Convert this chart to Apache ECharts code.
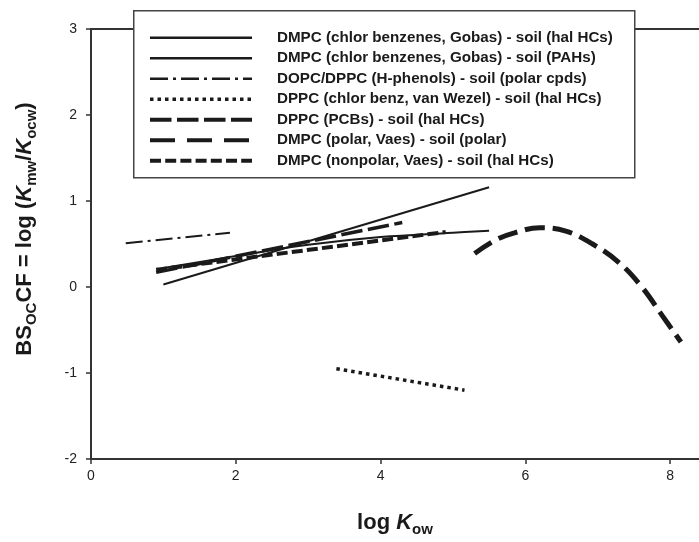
<!DOCTYPE html>
<html><head><meta charset="utf-8">
<script src="https://cdn.jsdelivr.net/npm/echarts@6/dist/echarts.min.js"></script>
<style>html,body{margin:0;padding:0;background:#fff}#c{width:699px;height:542px}</style>
</head><body><div id="c"></div>
<script>
const seriesNames = [
  'DMPC (chlor benzenes, Gobas) - soil (hal HCs)',
  'DMPC (chlor benzenes, Gobas) - soil (PAHs)',
  'DOPC/DPPC (H-phenols) - soil (polar cpds)',
  'DPPC (chlor benz, van Wezel) - soil (hal HCs)',
  'DPPC (PCBs) - soil (hal HCs)',
  'DMPC (polar, Vaes) - soil (polar)',
  'DMPC (nonpolar, Vaes) - soil (hal HCs)'
];
const gobasHal = [[1.0, 0.03], [5.5, 1.16]];
const gobasPAH = [[1.0, 0.22], [2.0, 0.36], [3.0, 0.49], [4.0, 0.58], [5.0, 0.63], [5.5, 0.655]];
const hPhenols = [[0.48, 0.51], [1.92, 0.63]];
const vanWezel = [[3.39, -0.95], [5.16, -1.2]];
const pcbs = [[0.9, 0.17], [4.3, 0.75]];
const polarVaes = [[5.3, 0.39], [5.6, 0.55], [5.85, 0.63], [6.2, 0.69], [6.56, 0.65], [6.93, 0.5], [7.3, 0.28], [7.62, -0.01], [7.89, -0.33], [8.15, -0.64]];
const nonpolarVaes = [[0.9, 0.2], [4.9, 0.64]];
const xTickLabels = [0, 2, 4, 6, 8];
const yTickLabels = [-2, -1, 0, 1, 2, 3];

const FF = '"Liberation Sans", Arial, sans-serif';
const INK = '#1a1a1a';
const seriesData = [gobasHal, gobasPAH, hPhenols, vanWezel, pcbs, polarVaes, nonpolarVaes];
const styles = [
  {width: 2, type: 'solid'},
  {width: 2, type: 'solid'},
  {width: 2, type: [17, 5, 3, 5]},
  {width: 3.5, type: [3.5, 4]},
  {width: 3.5, type: [21.5, 5.5]},
  {width: 5, type: [20, 8]},
  {width: 4, type: [11, 4.2]}
];
const legendStyles = [
  {width: 2.5, type: 'solid'},
  {width: 2.5, type: 'solid'},
  {width: 2.5, type: [18, 5, 3, 5]},
  {width: 3.5, type: [3.5, 4]},
  {width: 4, type: [21.5, 5.5]},
  {width: 4, type: [25, 12]},
  {width: 4, type: [11, 4.2]}
];
const smooth = [false, true, false, false, false, true, false];

const chart = echarts.init(document.getElementById('c'), null, {renderer: 'canvas'});
const richName = {
  b: {fontSize: 22, fontWeight: 'bold', fontFamily: FF, color: INK, lineHeight: 28},
  bi: {fontSize: 22, fontWeight: 'bold', fontStyle: 'italic', fontFamily: FF, color: INK, lineHeight: 28},
  s: {fontSize: 15, fontWeight: 'bold', fontFamily: FF, color: INK, lineHeight: 15, verticalAlign: 'bottom'}
};
chart.setOption({
  animation: false,
  backgroundColor: '#fff',
  grid: {left: 91, right: -1, top: 29, bottom: 83, containLabel: false},
  xAxis: [{
    type: 'value', min: 0, max: 8.4, interval: 2,
    name: '{b|log }{bi|K}{s|ow}', nameLocation: 'middle', nameGap: 50,
    nameTextStyle: {rich: richName},
    axisLine: {show: true, onZero: false, lineStyle: {color: '#333', width: 2}},
    axisTick: {show: true, inside: false, length: 5, customValues: xTickLabels, lineStyle: {color: '#333', width: 1.5}},
    axisLabel: {fontSize: 14, fontFamily: FF, color: '#222', margin: 10, customValues: xTickLabels,
      formatter: v => String(v)},
    splitLine: {show: false}
  }, {
    type: 'value', min: 0, max: 8.4, position: 'top',
    axisLine: {show: true, onZero: false, lineStyle: {color: '#333', width: 2}},
    axisTick: {show: false}, axisLabel: {show: false}, splitLine: {show: false}
  }],
  yAxis: {
    type: 'value', min: -2, max: 3, interval: 1,
    name: '{b|BS}{s|OC}{b|CF = log (}{bi|K}{s|mw}{b|/}{bi|K}{s|ocw}{b|)}',
    nameLocation: 'middle', nameRotate: 90, nameGap: 52,
    nameTextStyle: {rich: richName, padding: [0, 0, 0, 30]},
    axisLine: {show: true, onZero: false, lineStyle: {color: '#333', width: 2}},
    axisTick: {show: true, inside: false, length: 5, lineStyle: {color: '#333', width: 1.5}},
    axisLabel: {fontSize: 14, fontFamily: FF, color: '#222', margin: 14,
      formatter: v => yTickLabels.indexOf(v) >= 0 ? String(v) : ''},
    splitLine: {show: false}
  },
  graphic: [{
    type: 'rect', left: 133, top: 10, z: 3,
    shape: {width: 501, height: 167},
    style: {fill: '#fff', stroke: '#444', lineWidth: 1.5}
  }],
  legend: {
    orient: 'vertical', left: 143, top: 22.5, z: 4,
    itemWidth: 102, itemHeight: 14, itemGap: 0,
    itemStyle: {opacity: 0},
    textStyle: {fontSize: 15.2, fontWeight: 'bold', fontFamily: FF, color: INK, lineHeight: 20.5, padding: [0, 0, 0, 20]},
    data: seriesNames.map((n, i) => ({
      name: n,
      lineStyle: {color: INK, width: legendStyles[i].width, type: legendStyles[i].type, cap: 'butt'}
    }))
  },
  series: seriesNames.map((n, i) => ({
    name: n, type: 'line', data: seriesData[i], symbol: 'none', smooth: smooth[i] ? 0.4 : false,
    xAxisIndex: 0, z: 2,
    lineStyle: {color: INK, width: styles[i].width, type: styles[i].type, cap: 'butt'},
    itemStyle: {color: INK}
  }))
});
</script></body></html>
